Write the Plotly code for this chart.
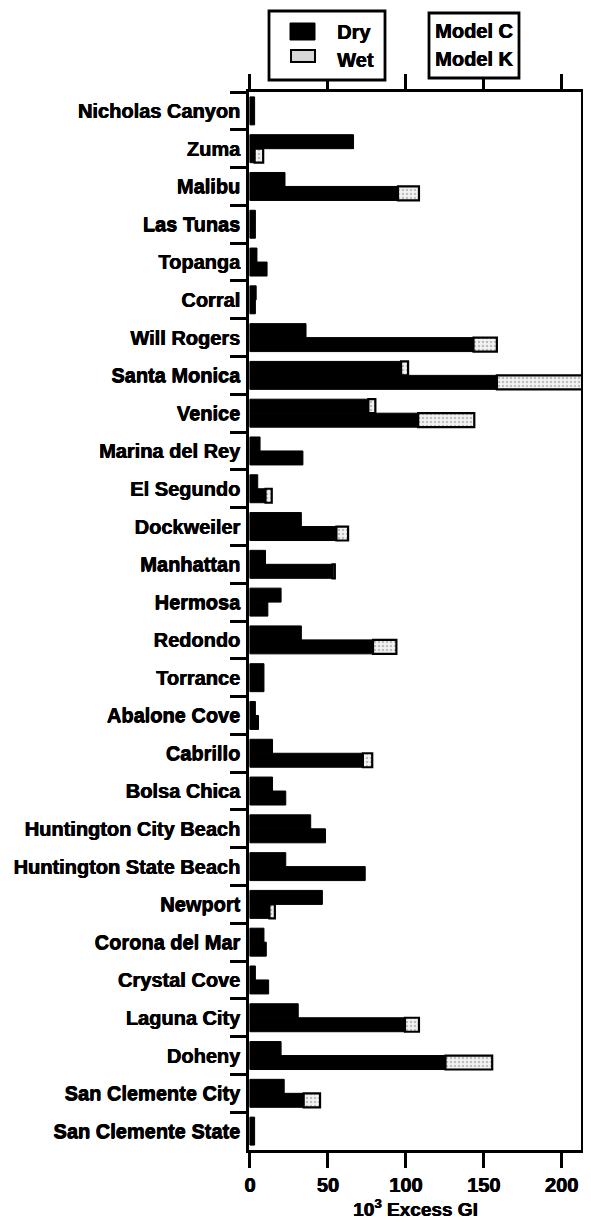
import plotly.graph_objects as go

beaches = ["Nicholas Canyon", "Zuma", "Malibu", "Las Tunas", "Topanga", "Corral",
           "Will Rogers", "Santa Monica", "Venice", "Marina del Rey", "El Segundo",
           "Dockweiler", "Manhattan", "Hermosa", "Redondo", "Torrance", "Abalone Cove",
           "Cabrillo", "Bolsa Chica", "Huntington City Beach", "Huntington State Beach",
           "Newport", "Corona del Mar", "Crystal Cove", "Laguna City", "Doheny",
           "San Clemente City", "San Clemente State"]

# Model C (upper bar of each pair)
c_dry = [3, 66.5, 22.5, 3.5, 4.5, 4, 36, 97, 76, 6.5, 5, 33, 10, 20, 33, 9, 3.5,
         14.5, 14.5, 39, 23, 46.5, 9, 3.5, 31, 20, 22, 3]
c_wet = [0, 0, 0, 0, 0, 0, 0, 4.5, 4.5, 0, 0, 0, 0, 0, 0, 0, 0,
         0, 0, 0, 0, 0, 0, 0, 0, 0, 0, 0]
# Model K (lower bar of each pair)
k_dry = [3, 3, 95, 3.5, 11, 3.5, 143.5, 158.5, 108, 34, 10, 55.5, 53, 11.5, 79, 9, 5.5,
         72.5, 23, 48.5, 74, 12.5, 10.5, 12, 99.5, 125.5, 34.5, 3]
k_wet = [0, 5.5, 13.5, 0, 0, 0, 15, 56, 36, 0, 4, 7.5, 1.5, 0, 15, 0, 0,
         6, 0, 0, 0, 3.5, 0, 0, 9, 30, 10.5, 0]

x_ticks = [0, 50, 100, 150, 200]

FONT = "Liberation Sans, Arial, sans-serif"
SHADOW = "0.6px 0px 0px black, 0px 0.4px 0px black"
OFF = 8  # default page body margin
W_FIG, H_FIG = 591 - OFF, 1222 - OFF
# plot area in page pixels
L, R, T, B = 249, 581, 92, 1150
Lf, Rf, Tf, Bf = L - OFF, R - OFF, T - OFF, B - OFF


def px(xp):
    return (xp - L) / (R - L)


def py(yp):
    return 1 - (yp - T) / (B - T)


def nz(v):
    return [x if x > 0 else None for x in v]


dry_marker = dict(color="black", line=dict(color="black", width=1))
wet_marker = dict(color="#e6e6e6", line=dict(color="black", width=2.2),
                  pattern=dict(shape=".", fgcolor="#8a8a8a", bgcolor="#f2f2f2",
                               size=4, solidity=0.3))

fig = go.Figure()
fig.add_trace(go.Bar(y=beaches, x=c_dry, orientation="h", offsetgroup="C",
                     marker=dry_marker, name="Dry", showlegend=False))
fig.add_trace(go.Bar(y=beaches, x=nz(c_wet), base=c_dry, orientation="h", offsetgroup="C",
                     marker=wet_marker, name="Wet", showlegend=False))
fig.add_trace(go.Bar(y=beaches, x=k_dry, orientation="h", offsetgroup="K",
                     marker=dry_marker, name="Dry", showlegend=False))
fig.add_trace(go.Bar(y=beaches, x=nz(k_wet), base=k_dry, orientation="h", offsetgroup="K",
                     marker=wet_marker, name="Wet", showlegend=False))

shapes = [
    # Dry / Wet key box
    dict(type="rect", xref="paper", yref="paper", x0=px(269), x1=px(385), y0=py(80), y1=py(11),
         line=dict(color="black", width=2.8), fillcolor="white"),
    dict(type="rect", xref="paper", yref="paper", x0=px(290), x1=px(315), y0=py(40), y1=py(23),
         line=dict(color="black", width=1), fillcolor="black"),
    dict(type="rect", xref="paper", yref="paper", x0=px(291), x1=px(315), y0=py(62), y1=py(50),
         line=dict(color="black", width=2), fillcolor="#d6d6d6"),
    # Model box
    dict(type="rect", xref="paper", yref="paper", x0=px(429), x1=px(519), y0=py(78), y1=py(13),
         line=dict(color="black", width=2.8), fillcolor="white"),
]

bold = dict(family=FONT, size=20, color="black", weight="bold", shadow=SHADOW)
annotations = [
    dict(xref="paper", yref="paper", x=px(335), y=py(32), text="Dry", showarrow=False,
         xanchor="left", yanchor="middle", font=bold),
    dict(xref="paper", yref="paper", x=px(335), y=py(60), text="Wet", showarrow=False,
         xanchor="left", yanchor="middle", font=bold),
    dict(xref="paper", yref="paper", x=px(474), y=py(31), text="Model C", showarrow=False,
         xanchor="center", yanchor="middle", font=bold),
    dict(xref="paper", yref="paper", x=px(474), y=py(59), text="Model K", showarrow=False,
         xanchor="center", yanchor="middle", font=bold),
    # x-axis title
    dict(xref="paper", yref="paper", x=0.5, y=py(1208), text="10<sup>3</sup> Excess GI",
         showarrow=False, xanchor="center", yanchor="middle",
         font=dict(family=FONT, size=19, color="black", weight="bold", shadow=SHADOW)),
]

fig.update_layout(
    width=W_FIG, height=H_FIG,
    margin=dict(l=Lf, r=W_FIG - Rf, t=Tf, b=H_FIG - Bf, pad=0),
    paper_bgcolor="white", plot_bgcolor="white",
    barmode="group", bargap=0.26, bargroupgap=0,
    font=dict(family=FONT, color="black"),
    shapes=shapes, annotations=annotations,
    xaxis=dict(range=[-0.6, 212.5], tickvals=x_ticks, ticks="outside", ticklen=15,
               tickwidth=2.8, tickcolor="black", showline=True, linewidth=2.8,
               linecolor="black", mirror="ticks", showgrid=False, zeroline=False,
               automargin=False,
               tickfont=dict(family=FONT, size=20, color="black", weight="bold", shadow=SHADOW)),
    yaxis=dict(type="category", categoryorder="array", categoryarray=beaches,
               autorange="reversed", tickson="boundaries", ticks="outside", ticklen=16,
               tickwidth=2.8, tickcolor="black", showline=True, linewidth=2.8,
               linecolor="black", mirror="ticks", showgrid=False, ticklabelstandoff=2,
               automargin=False,
               tickfont=dict(family=FONT, size=20, color="black", weight="bold", shadow=SHADOW)),
)

fig.write_html("out.html")
